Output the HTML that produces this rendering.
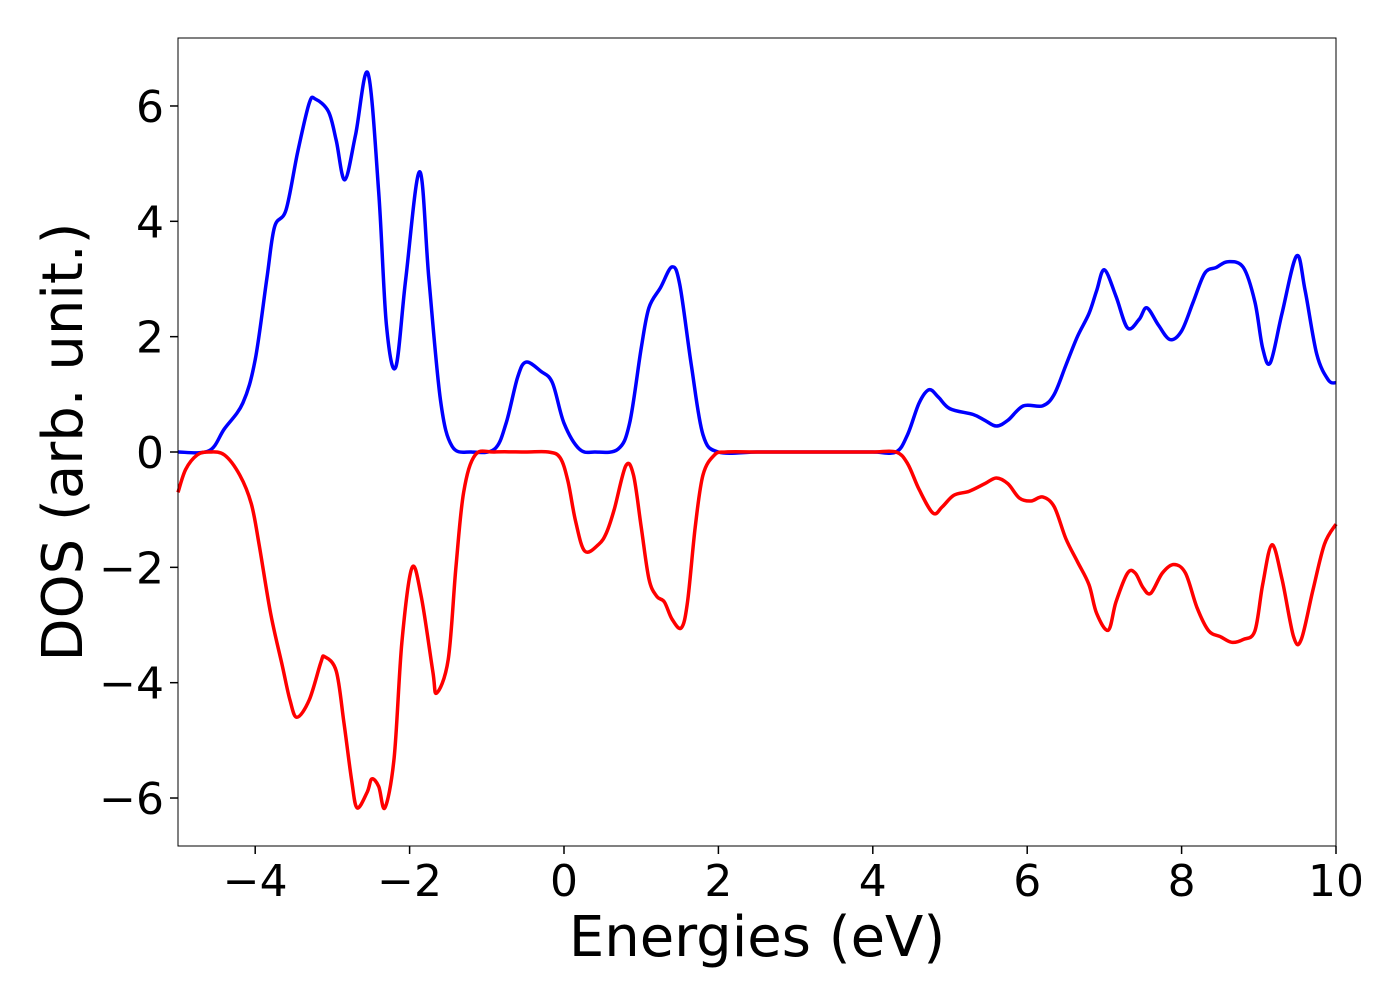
<!DOCTYPE html>
<html><head><meta charset="utf-8"><style>
html,body{margin:0;padding:0;background:#fff;}
svg{display:block;font-family:"DejaVu Sans","Liberation Sans",sans-serif;}
</style></head><body>
<svg id="chart" width="1400" height="1000" viewBox="0 0 1400 1000" xmlns="http://www.w3.org/2000/svg">
<g id="ticks"></g>
<g id="series"></g>
<rect x="178" y="38" width="1158" height="808" fill="none" stroke="#000" stroke-width="1"/>
<text x="757" y="956" font-size="56" text-anchor="middle">Energies (eV)</text>
<text transform="translate(82,442) rotate(-90)" font-size="56" text-anchor="middle">DOS (arb. unit.)</text>
</svg>
<script>
const xTicks=[-4,-2,0,2,4,6,8,10];
const yTicks=[-6,-4,-2,0,2,4,6];
const upE=[-5,-4.6,-4.4,-4.16,-4.0,-3.85,-3.75,-3.6,-3.45,-3.3,-3.22,-3.05,-2.95,-2.84,-2.7,-2.54,-2.4,-2.3,-2.18,-2.05,-1.87,-1.75,-1.6,-1.45,-1.2,-0.9,-0.75,-0.6,-0.49,-0.3,-0.15,0,0.2,0.4,0.7,0.85,1.0,1.1,1.25,1.4,1.5,1.65,1.8,2.0,2.5,3.0,3.5,4.0,4.3,4.45,4.6,4.73,4.85,5.0,5.3,5.45,5.6,5.75,5.95,6.2,6.35,6.5,6.65,6.8,6.9,7.0,7.15,7.3,7.45,7.55,7.7,7.85,8.0,8.15,8.3,8.45,8.6,8.8,8.95,9.05,9.15,9.3,9.49,9.6,9.75,9.9,10];
const upDOS=[0,0.02,0.4,0.85,1.6,3.0,3.9,4.2,5.2,6.05,6.12,5.9,5.4,4.72,5.5,6.57,4.5,2.2,1.47,3.0,4.86,3.0,0.9,0.1,0,0.05,0.5,1.3,1.56,1.4,1.2,0.5,0.05,0,0.05,0.5,1.8,2.5,2.85,3.21,2.9,1.5,0.3,0,0,0,0,0,0,0.3,0.85,1.08,0.95,0.75,0.65,0.55,0.45,0.55,0.8,0.8,1.0,1.5,2.0,2.4,2.8,3.16,2.7,2.15,2.3,2.5,2.2,1.95,2.1,2.6,3.1,3.2,3.3,3.2,2.6,1.8,1.55,2.4,3.4,2.8,1.7,1.25,1.2];
const dnE=[-5,-4.9,-4.75,-4.6,-4.4,-4.2,-4.05,-3.95,-3.8,-3.65,-3.55,-3.46,-3.3,-3.15,-3.1,-2.95,-2.85,-2.75,-2.68,-2.55,-2.49,-2.4,-2.32,-2.2,-2.1,-1.97,-1.85,-1.7,-1.65,-1.5,-1.4,-1.3,-1.15,-0.9,-0.5,-0.2,-0.05,0.05,0.15,0.27,0.45,0.55,0.65,0.8,0.9,1.0,1.1,1.2,1.3,1.4,1.52,1.6,1.7,1.8,1.95,2.1,2.5,3.0,3.5,4.0,4.3,4.45,4.6,4.78,4.9,5.05,5.25,5.45,5.6,5.75,5.9,6.05,6.2,6.35,6.5,6.65,6.8,6.9,7.05,7.15,7.3,7.4,7.5,7.6,7.75,7.9,8.05,8.2,8.35,8.5,8.65,8.8,8.95,9.05,9.17,9.3,9.45,9.55,9.7,9.85,10];
const dnDOS=[-0.7,-0.3,-0.05,0,-0.05,-0.4,-0.9,-1.6,-2.8,-3.7,-4.3,-4.6,-4.3,-3.65,-3.55,-3.8,-4.7,-5.7,-6.17,-5.9,-5.67,-5.8,-6.17,-5.3,-3.3,-2.01,-2.5,-3.8,-4.18,-3.6,-2.0,-0.7,-0.05,0,0,0,-0.1,-0.5,-1.2,-1.72,-1.6,-1.4,-1.0,-0.24,-0.4,-1.3,-2.2,-2.5,-2.6,-2.9,-3.05,-2.6,-1.3,-0.4,-0.05,0,0,0,0,0,0,-0.2,-0.65,-1.06,-0.95,-0.75,-0.68,-0.55,-0.45,-0.55,-0.8,-0.85,-0.78,-0.95,-1.5,-1.9,-2.3,-2.8,-3.09,-2.6,-2.1,-2.1,-2.35,-2.45,-2.1,-1.95,-2.1,-2.7,-3.1,-3.2,-3.3,-3.25,-3.1,-2.3,-1.61,-2.2,-3.2,-3.25,-2.4,-1.6,-1.25];
const L=178,R=1336,T=38,B=846,xmin=-5,xmax=10,y0px=452,yScale=57.67;
const X=v=>L+(v-xmin)*(R-L)/(xmax-xmin);
const Y=v=>y0px-v*yScale;
const NS='http://www.w3.org/2000/svg';
const tg=document.getElementById('ticks');
function mk(tag,attrs,parent){const e=document.createElementNS(NS,tag);for(const k in attrs)e.setAttribute(k,attrs[k]);parent.appendChild(e);return e;}
xTicks.forEach(t=>{
  const l=mk('line',{x1:X(t),x2:X(t),y1:B,y2:B+8,stroke:'#000','stroke-width':1.5},tg);
  
  
  const tx=mk('text',{x:X(t),y:B+50,'font-size':44,'text-anchor':'middle'},tg);
  tx.textContent=t<0?'\u2212'+(-t):String(t);
  
  
});
yTicks.forEach(t=>{
  const l=mk('line',{x1:L-8,x2:L,y1:Y(t),y2:Y(t),stroke:'#000','stroke-width':1.5},tg);
  
  
  const tx=mk('text',{x:L-14,y:Y(t)+16,'font-size':44,'text-anchor':'end'},tg);
  tx.textContent=t<0?'\u2212'+(-t):String(t);
  
  
});
function pathFrom(xs,ys){
  const p=xs.map((x,i)=>[X(x),Y(ys[i])]);
  let d='M'+p[0][0]+','+p[0][1];
  for(let i=0;i<p.length-1;i++){
    const p0=p[Math.max(0,i-1)],p1=p[i],p2=p[i+1],p3=p[Math.min(p.length-1,i+2)];
    const c1x=p1[0]+(p2[0]-p0[0])/6,c1y=p1[1]+(p2[1]-p0[1])/6;
    const c2x=p2[0]-(p3[0]-p1[0])/6,c2y=p2[1]-(p3[1]-p1[1])/6;
    d+=' C'+c1x+','+c1y+' '+c2x+','+c2y+' '+p2[0]+','+p2[1];
  }
  return d;
}
const sg=document.getElementById('series');
const up=mk('path',{d:pathFrom(upE,upDOS),fill:'none',stroke:'#0000ff','stroke-width':3.5,'stroke-linejoin':'round'},sg);


const dn=mk('path',{d:pathFrom(dnE,dnDOS),fill:'none',stroke:'#ff0000','stroke-width':3.5,'stroke-linejoin':'round'},sg);


</script>
</body></html>
